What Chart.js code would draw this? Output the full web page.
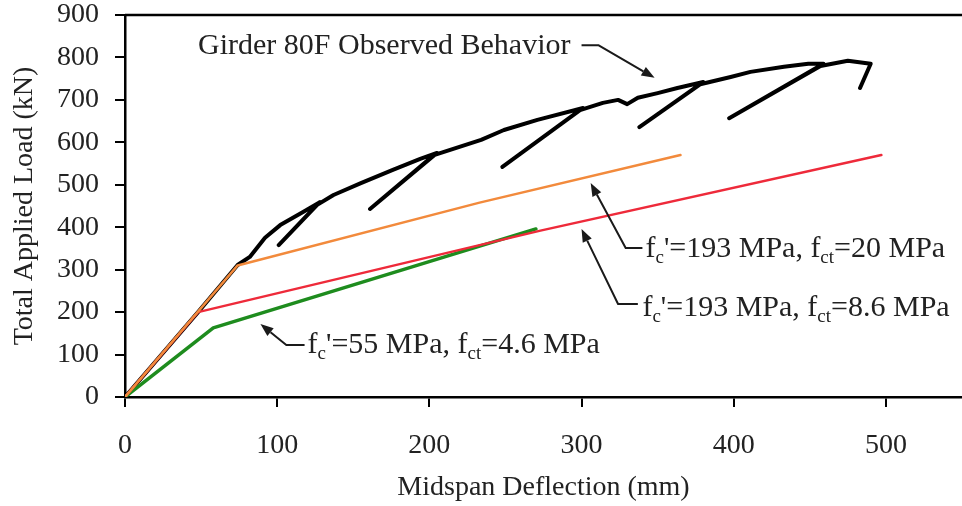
<!DOCTYPE html>
<html>
<head>
<meta charset="utf-8">
<script src="https://cdn.jsdelivr.net/npm/chart.js@4.4.1/dist/chart.umd.min.js"></script>
<style>
html,body{margin:0;padding:0;background:#ffffff;}
#wrap{width:962px;height:506px;}
</style>
</head>
<body>
<div id="wrap"><canvas id="c" width="962" height="506"></canvas></div>
<script>
// ---- axis text and ticks ----
const xAxisTitle = 'Midspan Deflection (mm)';
const yAxisTitle = 'Total Applied Load (kN)';
const xTickValues = [0, 100, 200, 300, 400, 500];
const yTickValues = [0, 100, 200, 300, 400, 500, 600, 700, 800, 900];
const xMin = 0, xMax = 550, yMin = 0, yMax = 900;

// ---- series: Girder 80F observed behavior (deflection mm, load kN) ----
const observedX = [0, 48, 74, 82, 92, 102, 117, 128, 101, 126, 137, 155, 176, 194, 205, 161, 203, 234, 249, 271, 301, 248, 299, 314, 324, 330, 337, 350, 363, 380, 338, 378, 398, 411, 433, 449, 459, 397, 457, 475, 490, 483];
const observedY = [0, 200, 311, 330, 375, 405, 436, 459, 358, 452, 476, 504, 535, 561, 575, 443, 570, 606, 629, 653, 681, 542, 676, 693, 700, 690, 705, 716, 728, 742, 636, 737, 754, 766, 778, 785, 785, 657, 780, 792, 785, 728];

// ---- series: analytical predictions ----
const fc193ft20X = [0, 74, 233, 365];
const fc193ft20Y = [0, 310, 458, 570];
const fc193ft86X = [0, 48, 273, 497];
const fc193ft86Y = [0, 200, 392, 570];
const fc55ft46X = [0, 58, 270];
const fc55ft46Y = [0, 163, 396];

// ---- annotation labels (pieces: [text, isSubscript]) ----
const noteTexts = [
  [['Girder 80F Observed Behavior', 0]],
  [['f', 0], ['c', 1], ["'=55 MPa, f", 0], ['ct', 1], ['=4.6 MPa', 0]],
  [['f', 0], ['c', 1], ["'=193 MPa, f", 0], ['ct', 1], ['=20 MPa', 0]],
  [['f', 0], ['c', 1], ["'=193 MPa, f", 0], ['ct', 1], ['=8.6 MPa', 0]]
];
const noteX = [48, 120, 342, 340];
const noteY = [827, 122.5, 349, 210];
const arrowX = [[300, 311, 348], [118, 106, 89], [340, 329, 306], [337, 324, 300]];
const arrowY = [[829, 829, 752], [122.5, 122.5, 172], [351, 351, 504], [219, 219, 396]];

function toXY(xs, ys) { return xs.map((x, i) => ({ x: x, y: ys[i] })); }

const FAMILY = "'Liberation Serif', 'Times New Roman', serif";
const TXT = '#222222';

const notesPlugin = {
  id: 'frameAndNotes',
  afterDatasetsDraw(chart) {
    const ctx = chart.ctx;
    const ca = chart.chartArea;
    const xs = chart.scales.x, ys = chart.scales.y;
    ctx.save();
    // top frame line
    ctx.strokeStyle = '#000';
    ctx.lineWidth = 2.5;
    ctx.beginPath();
    ctx.moveTo(ca.left, ca.top);
    ctx.lineTo(ca.right, ca.top);
    ctx.stroke();

    // arrows
    ctx.strokeStyle = '#1a1a1a';
    ctx.fillStyle = '#1a1a1a';
    ctx.lineWidth = 2;
    ctx.lineJoin = 'round';
    arrowX.forEach((ax, k) => {
      const pts = ax.map((v, i) => [xs.getPixelForValue(v), ys.getPixelForValue(arrowY[k][i])]);
      const n = pts.length;
      const [tx, ty] = pts[n - 1];
      const [px, py] = pts[n - 2];
      const ang = Math.atan2(ty - py, tx - px);
      const hl = 13, hw = 5;
      const bx = tx - hl * Math.cos(ang), by = ty - hl * Math.sin(ang);
      ctx.beginPath();
      ctx.moveTo(pts[0][0], pts[0][1]);
      for (let i = 1; i < n - 1; i++) ctx.lineTo(pts[i][0], pts[i][1]);
      ctx.lineTo(bx, by);
      ctx.stroke();
      ctx.beginPath();
      ctx.moveTo(tx, ty);
      ctx.lineTo(bx + hw * Math.sin(ang), by - hw * Math.cos(ang));
      ctx.lineTo(bx - hw * Math.sin(ang), by + hw * Math.cos(ang));
      ctx.closePath();
      ctx.fill();
    });

    // texts
    ctx.fillStyle = TXT;
    ctx.textBaseline = 'middle';
    ctx.textAlign = 'left';
    noteTexts.forEach((pieces, k) => {
      let x = xs.getPixelForValue(noteX[k]);
      const y = ys.getPixelForValue(noteY[k]);
      pieces.forEach(([t, sub]) => {
        ctx.font = sub ? ('19px ' + FAMILY) : ('30px ' + FAMILY);
        ctx.fillText(t, x, sub ? y + 9 : y);
        x += ctx.measureText(t).width;
      });
    });
    ctx.restore();
  }
};

const lineBase = { showLine: true, pointRadius: 0, pointHoverRadius: 0, fill: false, tension: 0, borderJoinStyle: 'round', borderCapStyle: 'round' };

new Chart(document.getElementById('c'), {
  type: 'scatter',
  data: {
    datasets: [
      Object.assign({ label: 'Girder 80F Observed Behavior', data: toXY(observedX, observedY), borderColor: '#000000', borderWidth: 4, order: 3 }, lineBase),
      Object.assign({ label: "fc'=193 MPa, fct=20 MPa", data: toXY(fc193ft20X, fc193ft20Y), borderColor: '#F28A3C', borderWidth: 2.5, order: 0 }, lineBase),
      Object.assign({ label: "fc'=193 MPa, fct=8.6 MPa", data: toXY(fc193ft86X, fc193ft86Y), borderColor: '#EE2A3A', borderWidth: 2.5, order: 1 }, lineBase),
      Object.assign({ label: "fc'=55 MPa, fct=4.6 MPa", data: toXY(fc55ft46X, fc55ft46Y), borderColor: '#1E8C1E', borderWidth: 3.5, order: 2 }, lineBase)
    ]
  },
  options: {
    responsive: false,
    animation: false,
    devicePixelRatio: 1,
    layout: { padding: { top: 15, right: 0, bottom: 0, left: 0 } },
    plugins: { legend: { display: false }, tooltip: { enabled: false } },
    scales: {
      x: {
        type: 'linear', min: xMin, max: xMax,
        afterBuildTicks: s => { s.ticks = xTickValues.map(v => ({ value: v })); },
        afterFit: s => { s.height = 109; s.paddingLeft = 0; s.paddingRight = 0; },
        ticks: { font: { family: FAMILY, size: 28 }, color: TXT, padding: 22, maxRotation: 0, autoSkip: false },
        grid: { display: true, drawOnChartArea: false, drawTicks: true, tickLength: 10, color: '#000', lineWidth: 2 },
        border: { display: true, color: '#000', width: 2.5 },
        title: { display: true, text: xAxisTitle, font: { family: FAMILY, size: 28 }, color: TXT, padding: { top: 0, bottom: 2 } }
      },
      y: {
        type: 'linear', min: yMin, max: yMax,
        afterBuildTicks: s => { s.ticks = yTickValues.map(v => ({ value: v })); },
        afterFit: s => { s.width = 125; s.paddingTop = 0; s.paddingBottom = 0; },
        ticks: { font: { family: FAMILY, size: 28 }, color: TXT, padding: 16, autoSkip: false },
        grid: { display: true, drawOnChartArea: false, drawTicks: true, tickLength: 10, color: '#000', lineWidth: 2 },
        border: { display: true, color: '#000', width: 2.5 },
        title: { display: true, text: yAxisTitle, font: { family: FAMILY, size: 28 }, color: TXT, padding: { top: 8, bottom: 0 } }
      }
    }
  },
  plugins: [notesPlugin]
});
</script>
</body>
</html>
